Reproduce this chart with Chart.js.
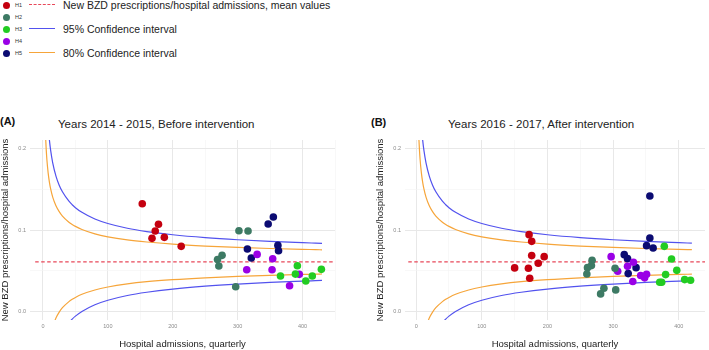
<!DOCTYPE html>
<html>
<head>
<meta charset="utf-8">
<script src="https://cdn.jsdelivr.net/npm/chart.js@4"></script>
<style>
  body { margin: 0; background: #fff; font-family: 'Liberation Sans', Arial, sans-serif; }
  #wrap { position: relative; width: 709px; height: 350px; overflow: hidden; }
  .dot { position: absolute; width: 7px; height: 7px; border-radius: 50%; }
  .hlab { position: absolute; font-size: 5.5px; color: #333; line-height: 6px; }
  .ltxt { position: absolute; font-size: 10.5px; color: #222; line-height: 12px; white-space: nowrap; }
  .lline { position: absolute; height: 0; width: 26px; }
  .ptitle { position: absolute; font-size: 11.5px; color: #222; line-height: 14px; white-space: nowrap; }
  .plab { position: absolute; font-size: 11px; font-weight: bold; color: #111; line-height: 14px; }
  canvas { position: absolute; }
</style>
</head>
<body>
<div id="wrap">
  <div id="legend"></div>
  <div class="lline" style="left:29px; top:4px; border-top: 1.2px dashed #e8485a;"></div>
  <div class="ltxt" style="left:63px; top:-1px;">New BZD prescriptions/hospital admissions, mean values</div>
  <div class="lline" style="left:29px; top:28px; border-top: 1.2px solid #5252ee;"></div>
  <div class="ltxt" style="left:63px; top:23px;">95% Confidence interval</div>
  <div class="lline" style="left:29px; top:52px; border-top: 1.2px solid #f6a53a;"></div>
  <div class="ltxt" style="left:63px; top:47px;">80% Confidence interval</div>

  <div class="plab" style="left:0px; top:114px;">(A)</div>
  <div class="ptitle" style="left:58px; top:117px;">Years 2014 - 2015, Before intervention</div>
  <div class="plab" style="left:371px; top:115px;">(B)</div>
  <div class="ptitle" style="left:448px; top:117px;">Years 2016 - 2017, After intervention</div>

  <canvas id="chartA" width="355" height="220" style="left:0px; top:130px;"></canvas>
  <canvas id="chartB" width="354" height="220" style="left:355px; top:130px;"></canvas>
</div>
<script>
const hospitals = ['H1', 'H2', 'H3', 'H4', 'H5'];
const hospitalColors = ['#c4000f', '#3d7a64', '#22cc22', '#9a00e6', '#0b0b72'];

// 2014-2015: quarterly admissions and new BZD prescription ratio, per hospital
const beforeAdmissions = [
    [153, 178, 173, 168, 187, 213],
    [302, 316, 276, 269, 271, 297],
    [366, 392, 389, 405, 415, 429],
    [330, 354, 314, 353, 395, 380],
    [355, 347, 362, 363, 315, 321]
];
const beforeRatio = [
    [0.132, 0.107, 0.0988, 0.0898, 0.091, 0.080],
    [0.0991, 0.0988, 0.069, 0.064, 0.056, 0.0306],
    [0.0437, 0.0563, 0.0461, 0.0376, 0.0437, 0.0519],
    [0.0702, 0.0649, 0.0514, 0.0514, 0.0458, 0.0318],
    [0.1159, 0.1073, 0.0812, 0.0747, 0.0767, 0.0657]
];

// 2016-2017
const afterAdmissions = [
    [172, 176, 176, 195, 186, 150, 171, 173],
    [268, 267, 261, 260, 303, 286, 281, 304],
    [378, 389, 397, 380, 371, 374, 409, 418],
    [297, 307, 331, 322, 330, 342, 348, 351],
    [356, 356, 351, 361, 317, 322, 335, 323]
];
const afterRatio = [
    [0.0943, 0.0861, 0.0687, 0.0674, 0.0593, 0.0537, 0.0532, 0.041],
    [0.0629, 0.0565, 0.054, 0.0463, 0.0532, 0.0288, 0.0219, 0.0268],
    [0.080, 0.0646, 0.0507, 0.0455, 0.0361, 0.0361, 0.0394, 0.0385],
    [0.0674, 0.0495, 0.0605, 0.0556, 0.037, 0.0443, 0.0415, 0.0459],
    [0.1415, 0.0902, 0.0809, 0.078, 0.0699, 0.065, 0.054, 0.0467]
];

const meanValue = 0.061;

// funnel limits read along the admissions axis
const curveX   = [4, 5, 6, 8, 10, 12, 15, 20, 25, 30, 40, 45, 50, 60, 80, 100, 130, 160, 200, 250, 300, 350, 400, 420, 430];
const upper95  = [null, null, null, 0.2269, 0.2093, 0.1964, 0.1821, 0.1659, 0.1548, 0.1467, 0.1352, 0.1309, 0.1273, 0.1216, 0.1134, 0.1079, 0.1021, 0.0981, 0.0942, 0.0907, 0.0881, 0.0861, 0.0845, 0.0839, 0.0836];
const lower95  = [null, null, null, null, null, null, null, null, null, null, -0.0132, -0.0089, -0.0053, 0.0004, 0.0086, 0.0141, 0.0199, 0.0239, 0.0278, 0.0313, 0.0339, 0.0359, 0.0375, 0.0381, 0.0384];
const upper80  = [0.2144, 0.1982, 0.1862, 0.1695, 0.1580, 0.1496, 0.1402, 0.1296, 0.1224, 0.1170, 0.1095, 0.1067, 0.1044, 0.1006, 0.0953, 0.0917, 0.0879, 0.0853, 0.0827, 0.0804, 0.0787, 0.0774, 0.0763, 0.0760, 0.0758];
const lower80  = [null, null, null, null, null, null, -0.0182, -0.0076, -0.0004, 0.0050, 0.0125, 0.0153, 0.0176, 0.0214, 0.0267, 0.0303, 0.0341, 0.0368, 0.0393, 0.0416, 0.0433, 0.0446, 0.0457, 0.0460, 0.0462];

const xGridValues = [0, 50, 100, 150, 200, 250, 300, 350, 400, 450];
const yGridValues = [0, 0.05, 0.1, 0.15, 0.2];
const yTickLabels = ['0.0', '', '0.1', '', '0.2'];

// legend dots
const legendEl = document.getElementById('legend');
hospitals.forEach((h, i) => {
    const d = document.createElement('div');
    d.className = 'dot';
    d.style.left = '3px';
    d.style.top = (1.5 + i * 12) + 'px';
    d.style.background = hospitalColors[i];
    legendEl.appendChild(d);
    const t = document.createElement('div');
    t.className = 'hlab';
    t.style.left = '15px';
    t.style.top = (2 + i * 12) + 'px';
    t.textContent = h;
    legendEl.appendChild(t);
});

Chart.defaults.font.family = "'Liberation Sans', Arial, sans-serif";

const isMajorX = v => v % 100 === 0;
const isMajorY = v => Math.round(v * 100) % 10 === 0;

function makePanel(id, adm, ratio, xMin, xMax, curveEnd, meanStart, padLeft, padRight) {
    const datasets = hospitals.map((h, i) => ({
        label: h,
        type: 'scatter',
        data: adm[i].map((x, j) => ({x: x, y: ratio[i][j]})),
        backgroundColor: hospitalColors[i],
        borderColor: hospitalColors[i],
        borderWidth: 0,
        pointRadius: 3.8,
        order: 0
    }));

    const curve = (vals, color) => ({
        type: 'line',
        data: curveX.map((x, i) => ({x: x, y: vals[i]})).filter(p => p.x <= curveEnd),
        borderColor: color,
        borderWidth: 1.2,
        pointRadius: 0,
        fill: false,
        cubicInterpolationMode: 'monotone',
        order: 1
    });

    datasets.push(curve(upper95, '#5252ee'));
    datasets.push(curve(lower95, '#5252ee'));
    datasets.push(curve(upper80, '#f6a53a'));
    datasets.push(curve(lower80, '#f6a53a'));
    datasets.push({
        type: 'line',
        data: [{x: meanStart, y: meanValue}, {x: xMax, y: meanValue}],
        borderColor: '#e8485a',
        borderWidth: 1.2,
        borderDash: [3.5, 2.5],
        pointRadius: 0,
        order: 1
    });

    return new Chart(document.getElementById(id), {
        type: 'scatter',
        data: {datasets: datasets},
        options: {
            responsive: false,
            animation: false,
            layout: {padding: {top: 10, left: padLeft, right: padRight, bottom: 0}},
            plugins: {legend: {display: false}, tooltip: {enabled: false}},
            scales: {
                x: {
                    type: 'linear',
                    min: xMin,
                    max: xMax,
                    afterBuildTicks: s => {
                        s.ticks = xGridValues.filter(v => v >= xMin && v <= xMax).map(v => ({value: v}));
                    },
                    afterFit: s => { s.height = 30; },
                    ticks: {
                        callback: v => isMajorX(v) ? String(v) : '',
                        font: {size: 5.5},
                        color: '#8a8a8a',
                        padding: 3,
                        autoSkip: false,
                        maxRotation: 0
                    },
                    grid: {
                        color: ctx => isMajorX(ctx.tick.value) ? '#e8e8e8' : '#f3f3f3',
                        lineWidth: ctx => isMajorX(ctx.tick.value) ? 1 : 0.6,
                        drawTicks: false
                    },
                    border: {display: false},
                    title: {
                        display: true,
                        text: 'Hospital admissions, quarterly',
                        font: {size: 9.5},
                        color: '#222',
                        padding: 0
                    }
                },
                y: {
                    min: -0.01,
                    max: 0.21,
                    afterBuildTicks: s => {
                        s.ticks = yGridValues.map(v => ({value: v}));
                    },
                    afterFit: s => { s.width = 30; },
                    ticks: {
                        callback: (v, i) => yTickLabels[i],
                        font: {size: 5.5},
                        color: '#8a8a8a',
                        padding: 4
                    },
                    grid: {
                        color: ctx => isMajorY(ctx.tick.value) ? '#e8e8e8' : '#f3f3f3',
                        lineWidth: ctx => isMajorY(ctx.tick.value) ? 1 : 0.6,
                        drawTicks: false
                    },
                    border: {display: false},
                    title: {
                        display: true,
                        text: 'New BZD prescriptions/hospital admissions',
                        font: {size: 9.5},
                        color: '#222',
                        padding: 0
                    }
                }
            }
        }
    });
}

makePanel('chartA', beforeAdmissions, beforeRatio, -20, 450, 430, -12, 0, 20);
makePanel('chartB', afterAdmissions, afterRatio, -17, 440, 420, -12, 20, 0);
</script>
</body>
</html>
